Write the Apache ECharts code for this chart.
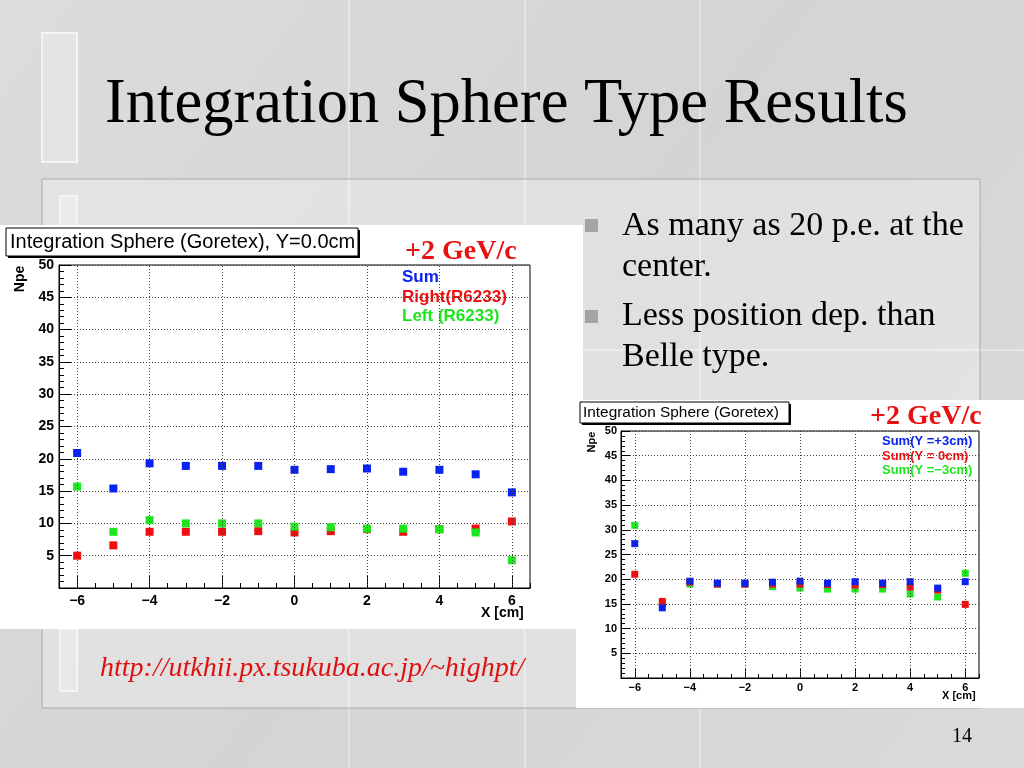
<!DOCTYPE html>
<html><head><meta charset="utf-8">
<script src="https://cdn.jsdelivr.net/npm/echarts@6/dist/echarts.min.js"></script>
<style>html,body{margin:0;padding:0;background:#d6d6d6}#c{width:1024px;height:768px}</style>
</head><body><div id="c"></div><script>
// ---- data ----
const xPositions = [-6, -5, -4, -3, -2, -1, 0, 1, 2, 3, 4, 5, 6];
// left chart: Integration Sphere (Goretex), Y=0.0cm
const leftSum   = [20.9, 15.4, 19.3, 18.9, 18.9, 18.9, 18.3, 18.4, 18.5, 18.0, 18.3, 17.6, 14.8];
const leftRight = [5.0, 6.6, 8.7, 8.7, 8.7, 8.8, 8.6, 8.8, 9.1, 8.7, 9.1, 9.2, 10.3];
const leftLeft  = [15.7, 8.7, 10.5, 10.0, 10.0, 10.0, 9.5, 9.4, 9.2, 9.2, 9.1, 8.6, 4.3];
// right chart: Integration Sphere (Goretex), sums at three Y positions
const sumYp3 = [27.2, 14.2, 19.6, 19.2, 19.2, 19.4, 19.6, 19.2, 19.5, 19.2, 19.5, 18.2, 19.5];
const sumY0  = [21.0, 15.5, 19.4, 19.0, 19.0, 19.0, 19.0, 18.9, 18.8, 18.9, 18.4, 17.8, 14.9];
const sumYm3 = [30.9, 15.0, 19.0, 19.0, 19.0, 18.5, 18.2, 18.0, 18.0, 18.0, 17.0, 16.4, 21.2];
const xMajorTicks = [-6, -4, -2, 0, 2, 4, 6];
const leftSeriesNames = ['Sum', 'Right(R6233)', 'Left (R6233)'];
const rightSeriesNames = ['Sum(Y =+3cm)', 'Sum(Y = 0cm)', 'Sum(Y =\u22123cm)'];
const bullets = ['As many as 20 p.e. at the', 'center.', 'Less position dep. than', 'Belle type.'];

// ---- chart ----
const BLUE = '#0a22ee', RED = '#ee1010', GREEN = '#1ee61e';
const SANS = 'Liberation Sans, Arial, sans-serif';
const SERIF = 'Liberation Serif, Times New Roman, serif';
const pairs = (ys) => xPositions.map((x, i) => [x, ys[i]]);
const minus = (v) => String(v).replace('-', '\u2212');

function axesFor(g, fs, majLen, minLen, lblMargin, xLblMargin) {
  return {
    x: [
      { gridIndex: g, type: 'value', min: -6.5, max: 6.5, interval: 0.5, position: 'bottom',
        axisLine: { show: true, onZero: false, lineStyle: { color: '#000', width: 1 } },
        axisTick: { show: true, inside: true, length: minLen, lineStyle: { color: '#000' } },
        axisLabel: { show: false }, splitLine: { show: false } },
      { gridIndex: g, type: 'value', min: -6.5, max: 6.5, position: 'bottom',
        axisLine: { show: false, onZero: false },
        axisTick: { show: true, inside: true, length: majLen, customValues: xMajorTicks, lineStyle: { color: '#000' } },
        axisLabel: { show: true, customValues: xMajorTicks, margin: xLblMargin, formatter: minus,
          fontFamily: SANS, fontWeight: 'bold', fontSize: fs, color: '#000' },
        splitLine: { show: false } }
    ],
    y: { gridIndex: g, type: 'value', min: 0, max: 50, interval: 5, position: 'left',
      axisLine: { show: true, onZero: false, lineStyle: { color: '#000', width: 1 } },
      axisTick: { show: true, inside: true, length: majLen, lineStyle: { color: '#000' } },
      minorTick: { show: true, splitNumber: 5, length: minLen, lineStyle: { color: '#000' } },
      axisLabel: { margin: lblMargin, formatter: (v) => (v === 0 ? '' : String(v)),
        fontFamily: SANS, fontWeight: 'bold', fontSize: fs, color: '#000' },
      splitLine: { show: true, lineStyle: { color: '#444', type: [1, 2], width: 1 } } }
  };
}
const A0 = axesFor(0, 14, 12, 5, 5, 6);
const A1 = axesFor(1, 11, 9, 4, 4, 4);

function gridLines(xi, yi) {
  return { type: 'scatter', xAxisIndex: xi, yAxisIndex: yi, data: [], z: 1, silent: true,
    markLine: { silent: true, symbol: 'none', label: { show: false },
      lineStyle: { color: '#444', type: [1, 2], width: 1 },
      data: xMajorTicks.map((v) => ({ xAxis: v })) } };
}
function sc(name, xi, yi, ys, color, size, z) {
  return { name, type: 'scatter', xAxisIndex: xi, yAxisIndex: yi, data: pairs(ys), clip: false,
    symbol: 'rect', symbolSize: size, itemStyle: { color, opacity: 1 }, z };
}

// text placed by its baseline
function txt(x, baseline, text, size, family, fill, weight) {
  return { type: 'text', x, y: baseline - 0.82 * size, silent: true,
    style: { text, font: (weight || '') + ' ' + size + 'px ' + family, fill, verticalAlign: 'top' } };
}
function vtxt(cx, cy, text, size, fill) {
  return { type: 'text', x: cx, y: cy, rotation: Math.PI / 2, silent: true,
    style: { text, font: 'bold ' + size + 'px ' + SANS, fill, align: 'center', verticalAlign: 'middle' } };
}
function seam(x1, y1, x2, y2) {
  return { type: 'line', shape: { x1, y1, x2, y2 }, silent: true, z: -9,
    style: { stroke: 'rgba(255,255,255,0.75)', lineWidth: 1 } };
}

const graphics = [
  // slide decoration (marble-like background)
  { type: 'rect', shape: { x: 0, y: 0, width: 1024, height: 768 }, silent: true, z: -10,
    style: { fill: new echarts.graphic.LinearGradient(0, 0, 1, 1, [
      { offset: 0, color: '#dcdcdc' }, { offset: 0.5, color: '#d4d4d4' }, { offset: 1, color: '#dadada' }]) } },
  seam(349, 0, 349, 768), seam(525, 0, 525, 768), seam(700, 0, 700, 768),
  seam(583, 350, 1024, 350),
  { type: 'rect', shape: { x: 42, y: 179, width: 938, height: 529 }, silent: true, z: -9,
    style: { fill: 'rgba(255,255,255,0.28)', stroke: '#aaaaaa', lineWidth: 1 } },
  { type: 'rect', shape: { x: 42, y: 33, width: 35, height: 129 }, silent: true, z: -9,
    style: { fill: 'rgba(255,255,255,0.25)', stroke: '#f4f4f4', lineWidth: 2 } },
  { type: 'rect', shape: { x: 60, y: 196, width: 17, height: 40 }, silent: true, z: -9,
    style: { fill: 'rgba(255,255,255,0.25)', stroke: '#f4f4f4', lineWidth: 2 } },
  { type: 'rect', shape: { x: 60, y: 629, width: 17, height: 62 }, silent: true, z: -9,
    style: { fill: 'rgba(255,255,255,0.25)', stroke: '#f4f4f4', lineWidth: 2 } },
  // white panels holding the plots
  { type: 'rect', shape: { x: 0, y: 225, width: 583, height: 404 }, silent: true, z: -8, style: { fill: '#ffffff' } },
  { type: 'rect', shape: { x: 576, y: 400, width: 448, height: 308 }, silent: true, z: -8, style: { fill: '#ffffff' } },
  // slide title & bullets
  txt(105, 125, 'Integration Sphere Type Results', 62.5, SERIF, '#000'),
  { type: 'rect', shape: { x: 585, y: 219, width: 13, height: 13 }, silent: true, style: { fill: '#a4a4a4' } },
  { type: 'rect', shape: { x: 585, y: 310, width: 13, height: 13 }, silent: true, style: { fill: '#a4a4a4' } },
  txt(622, 237, bullets[0], 34, SERIF, '#000'),
  txt(622, 278, bullets[1], 34, SERIF, '#000'),
  txt(622, 327, bullets[2], 34, SERIF, '#000'),
  txt(622, 368, bullets[3], 34, SERIF, '#000'),
  txt(100, 678, 'http://utkhii.px.tsukuba.ac.jp/~highpt/', 28, SERIF, '#e01010', 'italic'),
  txt(952, 743, '14', 20, SERIF, '#000'),
  // left plot title box
  { type: 'rect', shape: { x: 8, y: 230, width: 352, height: 28 }, silent: true, style: { fill: '#000' } },
  { type: 'rect', shape: { x: 6, y: 228, width: 352, height: 28 }, silent: true, style: { fill: '#fff', stroke: '#000', lineWidth: 1 } },
  txt(10, 249, 'Integration Sphere (Goretex), Y=0.0cm', 20, SANS, '#000'),
  txt(405, 261, '+2 GeV/c', 28, SERIF, '#e81010', 'bold'),
  txt(402, 283, leftSeriesNames[0], 17, SANS, BLUE, 'bold'),
  txt(402, 303, leftSeriesNames[1], 17, SANS, RED, 'bold'),
  txt(402, 322, leftSeriesNames[2], 17, SANS, GREEN, 'bold'),
  vtxt(20, 279, 'Npe', 14, '#000'),
  txt(481, 618, 'X [cm]', 14, SANS, '#000', 'bold'),
  // right plot title box
  { type: 'rect', shape: { x: 582, y: 404, width: 209, height: 21 }, silent: true, style: { fill: '#000' } },
  { type: 'rect', shape: { x: 580, y: 402, width: 209, height: 21 }, silent: true, style: { fill: '#fff', stroke: '#000', lineWidth: 1 } },
  txt(583, 418, 'Integration Sphere (Goretex)', 15.4, SANS, '#000'),
  txt(870, 426, '+2 GeV/c', 28, SERIF, '#e81010', 'bold'),
  txt(882, 446, rightSeriesNames[0], 13, SANS, BLUE, 'bold'),
  txt(882, 461, rightSeriesNames[1], 13, SANS, RED, 'bold'),
  txt(882, 475, rightSeriesNames[2], 13, SANS, GREEN, 'bold'),
  vtxt(592, 442, 'Npe', 11, '#000'),
  txt(942, 699, 'X [cm]', 11, SANS, '#000', 'bold')
];

const chart = echarts.init(document.getElementById('c'), null, { renderer: 'canvas' });
chart.setOption({
  animation: false,
  backgroundColor: 'transparent',
  grid: [
    { left: 59, top: 265, width: 471, height: 323, show: true, borderColor: '#000', borderWidth: 1, backgroundColor: '#fff' },
    { left: 621, top: 431, width: 358, height: 247, show: true, borderColor: '#000', borderWidth: 1, backgroundColor: '#fff' }
  ],
  xAxis: [A0.x[0], A0.x[1], A1.x[0], A1.x[1]],
  yAxis: [A0.y, A1.y],
  graphic: graphics,
  series: [
    gridLines(0, 0),
    gridLines(2, 1),
    sc(leftSeriesNames[0], 0, 0, leftSum, BLUE, 8, 3),
    sc(leftSeriesNames[1], 0, 0, leftRight, RED, 8, 3),
    sc(leftSeriesNames[2], 0, 0, leftLeft, GREEN, 8, 3),
    sc(rightSeriesNames[2], 2, 1, sumYm3, GREEN, 7, 3),
    sc(rightSeriesNames[1], 2, 1, sumY0, RED, 7, 3),
    sc(rightSeriesNames[0], 2, 1, sumYp3, BLUE, 7, 3)
  ]
});
</script></body></html>
